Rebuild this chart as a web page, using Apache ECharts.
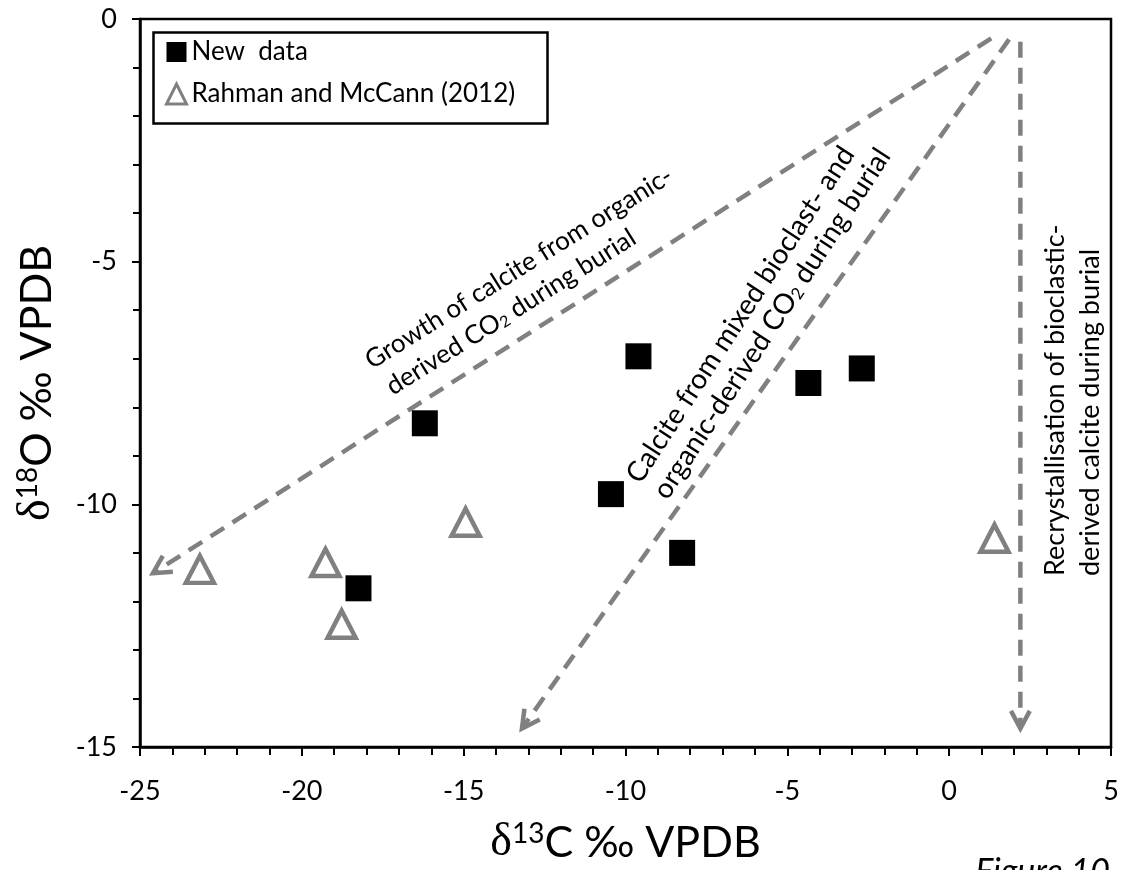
<!DOCTYPE html>
<html>
<head>
<meta charset="utf-8">
<script src="https://cdn.jsdelivr.net/npm/echarts@6/dist/echarts.min.js"></script>
<style>html,body{margin:0;padding:0;background:#fff}#c{width:1122px;height:870px}</style>
</head>
<body>
<div id="c"></div>
<script>
// ---- data ----
const newDataX = [-18.25, -16.2, -10.45, -9.6, -8.25, -4.35, -2.7];
const newDataY = [-11.73, -8.33, -9.79, -6.95, -11.0, -7.5, -7.2];
const rahmanX = [-23.15, -19.27, -18.77, -14.94, 1.4];
const rahmanY = [-11.34, -11.2, -12.47, -10.37, -10.7];
const arrowFromX = [1.3, 1.85, 2.2];
const arrowFromY = [-0.4, -0.42, -0.47];
const arrowToX = [-24.6, -13.2, 2.2];
const arrowToY = [-11.42, -14.62, -14.62];
const xTicks = [-25, -20, -15, -10, -5, 0, 5];
const yTicks = [0, -5, -10, -15];
const seriesNames = ['New  data', 'Rahman and McCann (2012)'];

const GRAY = '#808080';
const FONT = 'Lato';

const chart = echarts.init(document.getElementById('c'), null, {renderer: 'canvas'});

const arrowData = arrowFromX.map((x, i) => [x, arrowFromY[i], arrowToX[i], arrowToY[i]]);

function renderArrow(params, api) {
  const p0 = api.coord([api.value(0), api.value(1)]);
  const p1 = api.coord([api.value(2), api.value(3)]);
  const dx = p0[0] - p1[0], dy = p0[1] - p1[1];
  const len = Math.sqrt(dx * dx + dy * dy);
  const ux = dx / len, uy = dy / len;
  const a = 28 * Math.PI / 180, L = 20;
  const w1 = [p1[0] + L * (ux * Math.cos(a) - uy * Math.sin(a)), p1[1] + L * (ux * Math.sin(a) + uy * Math.cos(a))];
  const w2 = [p1[0] + L * (ux * Math.cos(-a) - uy * Math.sin(-a)), p1[1] + L * (ux * Math.sin(-a) + uy * Math.cos(-a))];
  return {
    type: 'group',
    children: [
      {type: 'line', shape: {x1: p0[0], y1: p0[1], x2: p1[0], y2: p1[1]},
       style: {stroke: GRAY, lineWidth: 4.5, lineDash: [16, 10], fill: null}},
      {type: 'polyline', shape: {points: [w1, p1, w2]},
       style: {stroke: GRAY, lineWidth: 4.5, fill: null}}
    ]
  };
}

const subRich = {s: {fontSize: 16, fontFamily: FONT, verticalAlign: 'bottom'}};
const subRichMid = {s: {fontSize: 17, fontFamily: FONT, verticalAlign: 'bottom'}};
const titleRich = {
  d: {fontFamily: 'Liberation Serif', fontSize: 46, color: '#000'},
  s: {fontFamily: FONT, fontSize: 28, verticalAlign: 'top', color: '#000'},
  m: {fontFamily: FONT, fontSize: 43, color: '#000'}
};
const midRot = 57 * Math.PI / 180;

const option = {
  backgroundColor: '#fff',
  animation: false,
  grid: {left: 140, right: 11, top: 19, bottom: 123, show: true, borderColor: '#000', borderWidth: 2.5,
         backgroundColor: 'transparent', outerBoundsMode: 'none', containLabel: false},
  xAxis: {
    type: 'value', min: xTicks[0], max: xTicks[xTicks.length - 1], interval: 5,
    name: '{d|δ}{s|13}{m|C ‰ VPDB}', nameLocation: 'middle', nameGap: 73,
    nameTextStyle: {rich: titleRich},
    axisLine: {onZero: false, lineStyle: {color: '#000', width: 2.5}},
    axisTick: {inside: false, length: 9, lineStyle: {color: '#000', width: 2}},
    minorTick: {show: true, splitNumber: 5, length: 8, lineStyle: {color: '#000', width: 2}},
    splitLine: {show: false},
    axisLabel: {fontFamily: FONT, fontSize: 27, color: '#000', margin: 31}
  },
  yAxis: {
    type: 'value', min: yTicks[yTicks.length - 1], max: yTicks[0], interval: 5,
    name: '{d|δ}{s|18}{m|O ‰ VPDB}', nameLocation: 'middle', nameGap: 80,
    nameTextStyle: {rich: titleRich},
    axisLine: {onZero: false, lineStyle: {color: '#000', width: 2.5}},
    axisTick: {inside: false, length: 8, lineStyle: {color: '#000', width: 2}},
    minorTick: {show: true, splitNumber: 5, length: 7, lineStyle: {color: '#000', width: 2}},
    splitLine: {show: false},
    axisLabel: {fontFamily: FONT, fontSize: 27, color: '#000', margin: 23}
  },
  legend: {
    orient: 'vertical', left: 165, top: 39, padding: 0, itemGap: 16, itemWidth: 20, itemHeight: 20,
    textStyle: {fontFamily: FONT, fontSize: 26, color: '#000'},
    data: [
      {name: seriesNames[0], icon: 'rect', itemStyle: {color: '#000'}},
      {name: seriesNames[1], icon: 'triangle', itemStyle: {color: 'rgba(0,0,0,0)', borderColor: GRAY, borderWidth: 3}}
    ],
    selectedMode: false
  },
  series: [
    {type: 'custom', name: 'arrows', renderItem: renderArrow, data: arrowData,
     encode: {x: [0, 2], y: [1, 3]}, silent: true, z: 1},
    {type: 'scatter', name: seriesNames[0], symbol: 'rect', symbolSize: 26,
     itemStyle: {color: '#000', opacity: 1}, data: newDataX.map((x, i) => [x, newDataY[i]]), z: 3},
    {type: 'scatter', name: seriesNames[1], symbol: 'triangle', symbolSize: [28, 27],
     itemStyle: {color: 'rgba(0,0,0,0)', borderColor: GRAY, borderWidth: 4.5, opacity: 1},
     data: rahmanX.map((x, i) => [x, rahmanY[i]]), z: 3}
  ],
  graphic: [
    {type: 'rect', left: 151, top: 30, shape: {width: 394, height: 91}, style: {fill: null, stroke: '#000', lineWidth: 2.5}, z: 10},
    {type: 'text', x: 519, y: 268, rotation: 32 * Math.PI / 180,
     style: {text: 'Growth of calcite from organic-', fontFamily: FONT, fontSize: 26, fill: '#000', align: 'center', verticalAlign: 'middle'}},
    {type: 'text', x: 511, y: 312, rotation: 32 * Math.PI / 180,
     style: {text: 'derived CO{s|2} during burial', rich: subRich, fontFamily: FONT, fontSize: 26, fill: '#000', align: 'center', verticalAlign: 'middle'}},
    {type: 'text', x: 633, y: 480, rotation: midRot,
     style: {text: 'Calcite from mixed bioclast- and', fontFamily: FONT, fontSize: 28, fill: '#000', align: 'left', verticalAlign: 'middle'}},
    {type: 'text', x: 660, y: 496, rotation: midRot,
     style: {text: 'organic-derived CO{s|2} during burial', rich: subRichMid, fontFamily: FONT, fontSize: 28, fill: '#000', align: 'left', verticalAlign: 'middle'}},
    {type: 'text', x: 1055, y: 576, rotation: Math.PI / 2,
     style: {text: 'Recrystallisation of bioclastic-', fontFamily: FONT, fontSize: 27, fill: '#000', align: 'left', verticalAlign: 'middle'}},
    {type: 'text', x: 1090, y: 576, rotation: Math.PI / 2,
     style: {text: 'derived calcite during burial', fontFamily: FONT, fontSize: 27, fill: '#000', align: 'left', verticalAlign: 'middle'}},
    {type: 'text', x: 1110, y: 855,
     style: {text: 'Figure 10', fontFamily: FONT, fontStyle: 'italic', fontSize: 34, fill: '#000', align: 'right', verticalAlign: 'top'}}
  ]
};
chart.setOption(option);
</script>
</body>
</html>
